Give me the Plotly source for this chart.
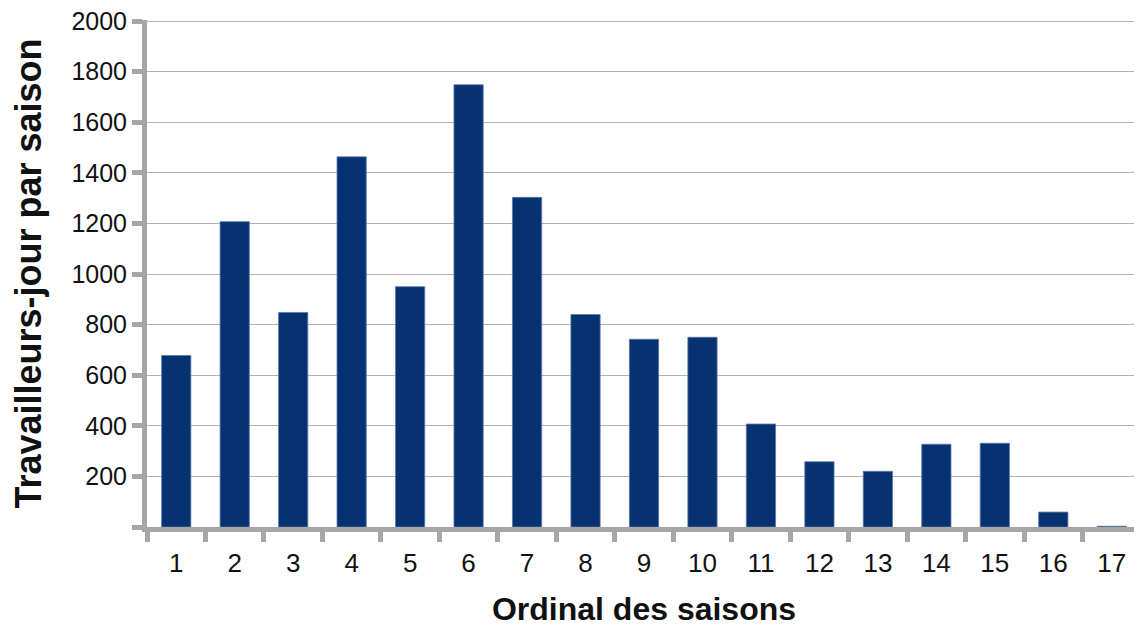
import plotly.graph_objects as go

seasons = [str(i) for i in range(1, 18)]
workers = [678, 1207, 848, 1463, 950, 1748, 1303, 840, 742, 750, 407, 258, 220, 327, 331, 59, 3]
y_tickvals = [0, 200, 400, 600, 800, 1000, 1200, 1400, 1600, 1800, 2000]
y_ticktext = ["", "200", "400", "600", "800", "1000", "1200", "1400", "1600", "1800", "2000"]

fig = go.Figure()
fig.add_trace(go.Bar(
    x=seasons, y=workers,
    marker=dict(color="#073272", line=dict(color="#5b78a8", width=0.8)),
    width=0.5,
))

font = "Liberation Sans, Arial, sans-serif"
fig.update_layout(
    width=1142, height=630,
    margin=dict(l=139, r=9, t=12, b=111),
    plot_bgcolor="white", paper_bgcolor="white",
    showlegend=False,
    font=dict(family=font, size=25, color="#111111"),
)
fig.update_xaxes(
    type="category", tickson="boundaries", ticks="outside",
    ticklen=10, tickwidth=5, tickcolor="#a6a6a6",
    showline=True, linecolor="#a6a6a6", linewidth=5,
    showgrid=False, automargin=False, ticklabelstandoff=9,
    title=dict(text="<b>Ordinal des saisons</b>", font=dict(size=32, family=font, color="#111111"), standoff=22),
    tickfont=dict(size=26),
)
fig.update_yaxes(
    range=[0, 2004], tickvals=y_tickvals, ticktext=y_ticktext,
    ticks="outside", ticklen=10, tickwidth=5, tickcolor="#a6a6a6",
    showline=True, linecolor="#a6a6a6", linewidth=5,
    showgrid=True, gridcolor="#b3b3b3", gridwidth=1,
    zeroline=False, automargin=False, ticklabeloverflow="allow",
    title=dict(text="<b>Travailleurs-jour par saison</b>", font=dict(size=36, family=font, color="#111111"), standoff=20),
    tickfont=dict(size=25),
)

fig.write_html("out.html")
